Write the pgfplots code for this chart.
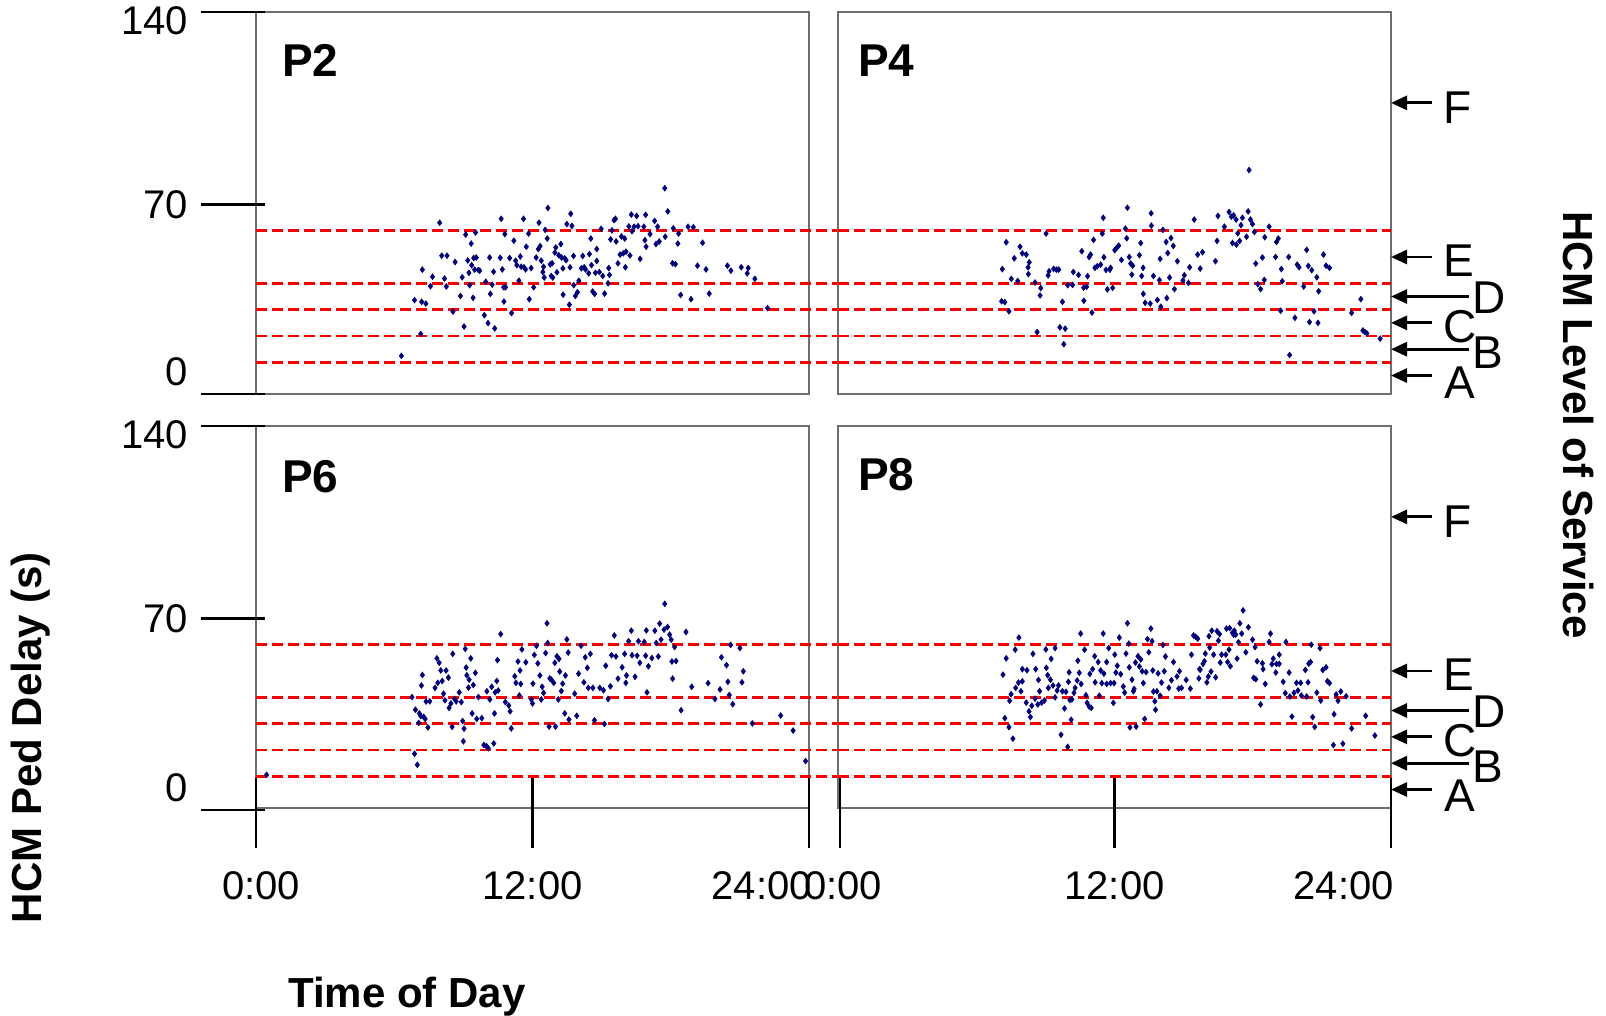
\documentclass[border=0pt]{standalone}
\usepackage{fontspec}
\setmainfont{Liberation Sans}
\usepackage{pgfplots}
\pgfplotsset{compat=1.18}
\usetikzlibrary{arrows.meta}
\definecolor{navy}{RGB}{0,0,128}
\definecolor{boxgray}{RGB}{110,110,110}
\newcommand{\ticklbl}{\fontsize{40pt}{46pt}\selectfont}
\newcommand{\plbl}{\fontsize{46pt}{52pt}\selectfont\bfseries}
\newcommand{\loslbl}{\fontsize{46pt}{52pt}\selectfont}
\newcommand{\axlbl}{\fontsize{42pt}{48pt}\selectfont\bfseries}
\pgfplotsset{
  panel/.style={scale only axis, width=553pt, height=382pt, xmin=0, xmax=24, ymin=-2, ymax=143,
    xtick=\empty, ytick=\empty, axis line style={boxgray, line width=1.3pt}, clip=false, anchor=south west},
  thr/.style={red, line width=2.7pt, dash pattern=on 11pt off 5pt, forget plot},
  pts/.style={only marks, mark=diamond*, mark size=2.9pt, navy, mark options={line width=0.6pt}},
}
\tikzset{tk/.style={line width=2.7pt, black},
  los/.style={line width=2.8pt, {Triangle[length=16pt, width=14pt]}-}}
\begin{document}
\begin{tikzpicture}
\useasboundingbox (0,0) rectangle (1606pt,1015pt);

% ---------------- P2 (top left)
\begin{axis}[panel, at={(256pt,621pt)}]
\addplot[thr] coordinates {(0,10) (25.3,10)};
\addplot[thr] coordinates {(0,20) (25.3,20)};
\addplot[thr] coordinates {(0,30) (25.3,30)};
\addplot[thr] coordinates {(0,40) (25.3,40)};
\addplot[thr] coordinates {(0,60) (25.3,60)};
\addplot[pts] table {
6.31 12.5
6.88 33.6
7.15 20.8
7.22 45.2
7.19 33.0
7.37 32.3
7.57 38.9
7.66 42.5
7.97 63.0
8.06 50.5
8.18 41.8
8.26 38.8
8.29 50.5
8.55 29.3
8.64 48.1
8.87 35.2
8.95 42.3
9.03 23.6
9.10 58.5
9.19 48.7
9.24 44.0
9.27 39.3
9.34 55.1
9.36 46.9
9.42 34.5
9.45 49.6
9.49 45.2
9.53 59.3
9.56 49.8
9.65 45.1
9.71 44.8
9.91 27.9
9.97 40.6
10.07 24.9
10.14 49.8
10.17 36.0
10.25 39.5
10.31 44.4
10.36 22.9
10.60 49.7
10.64 64.5
10.69 45.3
10.75 38.5
10.76 33.1
10.80 58.7
10.83 38.5
11.01 49.6
11.09 28.7
11.19 56.2
11.27 48.6
11.32 46.9
11.41 41.0
11.47 50.2
11.51 46.3
11.61 64.5
11.63 46.1
11.70 45.3
11.73 53.9
11.83 58.9
11.86 34.0
11.94 45.8
12.05 38.5
12.16 49.8
12.25 53.0
12.28 63.0
12.33 54.1
12.38 48.6
12.45 44.3
12.48 46.3
12.51 42.2
12.55 60.3
12.64 57.0
12.67 68.6
12.77 47.2
12.81 42.8
12.85 47.6
12.88 42.2
12.97 51.7
13.01 53.6
13.06 44.2
13.14 50.7
13.23 54.9
13.26 49.8
13.32 45.7
13.33 35.7
13.40 49.5
13.46 48.8
13.49 62.5
13.60 31.9
13.63 46.1
13.66 66.4
13.71 61.8
13.78 50.4
13.79 39.3
13.86 35.2
13.95 36.6
14.01 41.0
14.12 45.7
14.18 50.4
14.24 46.1
14.30 45.3
14.44 43.8
14.47 51.1
14.53 57.0
14.56 46.9
14.61 36.9
14.70 36.0
14.73 44.0
14.79 53.0
14.79 48.5
14.90 44.3
14.98 60.7
15.05 42.8
15.13 36.1
15.28 40.0
15.31 45.8
15.34 43.2
15.39 56.7
15.45 60.1
15.54 64.0
15.60 64.5
15.63 55.9
15.71 47.6
15.80 50.9
15.86 57.8
15.94 51.4
16.00 57.0
16.06 52.0
16.03 46.1
16.18 61.6
16.23 50.6
16.29 66.1
16.32 59.8
16.41 61.5
16.52 65.6
16.58 61.7
16.67 49.3
16.83 61.5
16.88 56.4
16.91 66.0
16.93 53.9
17.10 58.7
17.30 63.7
17.36 54.9
17.43 61.5
17.50 55.9
17.74 76.1
17.76 57.7
17.87 67.3
18.08 47.6
18.11 60.9
18.20 47.3
18.31 55.1
18.34 58.9
18.43 35.6
18.75 61.5
18.88 34.0
18.98 61.3
19.16 46.7
19.38 55.4
19.53 45.3
19.67 36.1
20.46 46.7
20.61 44.8
21.06 46.1
21.32 43.8
21.36 45.8
21.65 41.7
22.20 30.6
};
\draw[tk] ([xshift=-55pt]axis cs:0,143) -- ([xshift=9pt]axis cs:0,143);
\draw[tk] ([xshift=-55pt]axis cs:0,70) -- ([xshift=9pt]axis cs:0,70);
\draw[tk] ([xshift=-55pt]axis cs:0,-2) -- ([xshift=9pt]axis cs:0,-2);
\node[anchor=east, inner sep=0pt, font=\ticklbl] at ([xshift=-68pt, yshift=-9pt]axis cs:0,143) {140};
\node[anchor=east, inner sep=0pt, font=\ticklbl] at ([xshift=-68pt]axis cs:0,70) {70};
\node[anchor=east, inner sep=0pt, font=\ticklbl] at ([xshift=-68pt, yshift=22pt]axis cs:0,-2) {0};
\node[anchor=base west, inner sep=0pt, font=\plbl] at ([xshift=26pt, yshift=-65pt]axis cs:0,143) {P2};
\end{axis}

% ---------------- P4 (top right)
\begin{axis}[panel, at={(838pt,621pt)}]
\addplot[thr] coordinates {(0,10) (24,10)};
\addplot[thr] coordinates {(0,20) (24,20)};
\addplot[thr] coordinates {(0,30) (24,30)};
\addplot[thr] coordinates {(0,40) (24,40)};
\addplot[thr] coordinates {(0,60) (24,60)};
\addplot[pts] table {
7.13 45.4
7.10 33.2
7.24 32.9
7.30 55.6
7.42 29.4
7.52 41.7
7.65 49.5
7.80 40.9
7.90 53.9
8.00 51.4
8.17 50.9
8.25 46.1
8.30 48.0
8.26 43.5
8.55 40.3
8.64 21.5
8.77 35.4
8.80 38.2
9.03 58.9
9.12 43.0
9.16 44.6
9.36 45.5
9.48 45.2
9.58 45.2
9.63 23.3
9.74 33.0
9.80 16.9
9.86 22.8
9.97 39.3
10.18 39.4
10.21 44.3
10.44 43.2
10.58 52.2
10.66 38.4
10.67 33.4
10.79 38.7
10.83 42.7
10.90 50.0
10.96 50.9
11.02 28.9
11.09 56.5
11.15 45.9
11.25 46.5
11.40 47.1
11.47 58.9
11.51 64.9
11.54 49.9
11.63 45.1
11.69 37.7
11.80 45.2
11.83 45.9
11.92 38.3
12.01 52.6
12.09 53.4
12.18 54.3
12.30 48.9
12.47 60.8
12.53 57.1
12.56 68.7
12.64 50.0
12.70 47.5
12.79 46.7
12.75 43.3
13.08 50.7
13.14 55.3
13.18 42.8
13.24 45.9
13.25 36.0
13.33 32.6
13.55 32.3
13.59 66.6
13.60 61.9
13.69 42.8
13.86 33.7
13.95 41.2
13.98 49.3
14.01 31.1
14.10 60.3
14.24 55.7
14.27 34.4
14.31 51.5
14.39 42.2
14.45 57.2
14.55 54.2
14.60 37.8
14.73 48.4
14.97 41.1
15.03 43.1
15.21 40.2
15.26 46.1
15.46 64.2
15.61 50.9
15.72 45.6
15.82 51.8
16.38 48.4
16.45 56.1
16.49 65.6
16.77 61.5
16.97 67.1
17.07 65.3
17.12 55.3
17.17 65.8
17.28 64.2
17.29 54.7
17.35 59.0
17.43 56.1
17.49 62.1
17.55 64.9
17.73 57.7
17.80 67.3
17.84 83.0
17.90 64.2
17.99 62.5
18.07 59.5
18.13 47.5
18.22 39.7
18.34 37.8
18.42 49.8
18.50 41.3
18.52 57.5
18.71 61.5
18.99 50.0
19.03 55.7
19.11 57.0
19.21 29.6
19.24 45.4
19.28 40.8
19.56 50.0
19.60 12.8
19.83 26.9
19.93 47.1
20.01 46.1
20.21 38.8
20.34 52.7
20.41 46.6
20.46 25.3
20.56 45.0
20.66 29.4
20.78 42.3
20.83 25.0
20.86 37.0
21.07 50.9
21.18 46.7
21.33 45.9
22.29 28.8
22.69 34.0
22.78 22.1
22.87 21.5
22.95 21.0
23.53 19.0
};
\node[anchor=base west, inner sep=0pt, font=\plbl] at ([xshift=20pt, yshift=-65pt]axis cs:0,143) {P4};
\draw[los] (axis cs:24,108.5) -- ([xshift=41pt]axis cs:24,108.5);
\draw[los] (axis cs:24,50) -- ([xshift=41pt]axis cs:24,50);
\draw[los] (axis cs:24,35) -- ([xshift=78pt]axis cs:24,35);
\draw[los] (axis cs:24,25) -- ([xshift=41pt]axis cs:24,25);
\draw[los] (axis cs:24,15) -- ([xshift=78pt]axis cs:24,15);
\draw[los] (axis cs:24,5) -- ([xshift=41pt]axis cs:24,5);
\node[anchor=base west, inner sep=0pt, font=\loslbl] at ([xshift=52pt, yshift=-21pt]axis cs:24,108.5) {F};
\node[anchor=base west, inner sep=0pt, font=\loslbl] at ([xshift=52pt, yshift=-19pt]axis cs:24,50) {E};
\node[anchor=base west, inner sep=0pt, font=\loslbl] at ([xshift=81pt, yshift=-17pt]axis cs:24,35) {D};
\node[anchor=base west, inner sep=0pt, font=\loslbl] at ([xshift=52pt, yshift=-20pt]axis cs:24,25) {C};
\node[anchor=base west, inner sep=0pt, font=\loslbl] at ([xshift=81pt, yshift=-19pt]axis cs:24,15) {B};
\node[anchor=base west, inner sep=0pt, font=\loslbl] at ([xshift=53pt, yshift=-23pt]axis cs:24,5) {A};
\end{axis}

% ---------------- P6 (bottom left)
\begin{axis}[panel, at={(256pt,207pt)}]
\addplot[thr] coordinates {(0,10) (25.3,10)};
\addplot[thr] coordinates {(0,20) (25.3,20)};
\addplot[thr] coordinates {(0,30) (25.3,30)};
\addplot[thr] coordinates {(0,40) (25.3,40)};
\addplot[thr] coordinates {(0,60) (25.3,60)};
\addplot[pts] table {
0.46 10.6
6.77 40.1
6.88 18.6
6.92 35.3
7.00 14.4
7.06 30.3
7.09 33.9
7.15 32.9
7.18 44.5
7.22 48.5
7.28 32.6
7.34 31.8
7.38 38.4
7.46 28.6
7.54 38.5
7.77 43.6
7.85 54.8
7.89 45.5
7.95 53.1
8.02 50.2
8.08 46.2
8.14 41.4
8.20 38.9
8.25 50.2
8.35 47.5
8.38 36.0
8.46 37.7
8.51 28.8
8.54 56.5
8.62 39.4
8.69 38.5
8.82 41.9
8.91 38.2
8.97 31.0
9.00 23.3
9.03 28.1
9.08 58.4
9.12 51.3
9.15 48.4
9.22 43.7
9.25 46.7
9.32 54.8
9.38 33.9
9.43 44.7
9.52 49.3
9.58 31.8
9.65 40.1
9.80 32.1
9.89 21.9
10.00 21.5
10.02 42.3
10.08 20.7
10.15 39.2
10.23 44.0
10.32 22.5
10.35 33.9
10.38 41.9
10.45 46.2
10.48 54.1
10.51 42.6
10.62 64.0
10.82 38.2
10.97 36.9
11.03 34.7
11.08 28.2
11.23 48.0
11.28 45.5
11.37 53.6
11.43 40.7
11.46 50.2
11.49 45.1
11.54 58.2
11.71 53.3
11.95 39.2
12.00 37.7
12.02 45.2
12.08 56.1
12.17 59.6
12.23 52.9
12.32 48.3
12.38 39.2
12.42 44.0
12.48 41.7
12.57 56.8
12.63 68.1
12.66 60.6
12.72 28.9
12.75 47.2
12.82 46.7
12.92 45.5
12.97 53.1
13.00 28.9
13.06 55.6
13.12 39.2
13.15 54.6
13.18 49.8
13.25 42.4
13.31 45.2
13.40 33.9
13.43 48.3
13.49 62.0
13.55 57.0
13.58 31.6
13.83 41.4
13.92 33.0
14.00 49.0
14.11 59.6
14.23 45.7
14.29 55.2
14.38 51.2
14.42 43.6
14.51 56.5
14.62 43.6
14.69 31.3
14.92 43.6
15.08 42.7
15.12 29.9
15.18 52.0
15.28 39.4
15.38 44.2
15.43 56.0
15.55 63.5
15.62 55.5
15.71 47.1
15.89 51.4
16.00 56.5
16.05 45.5
16.08 48.3
16.17 61.3
16.29 65.3
16.32 56.0
16.45 47.8
16.54 55.8
16.60 61.3
16.66 53.1
16.85 61.0
16.91 55.8
16.94 65.4
16.97 41.9
17.03 51.8
17.18 54.9
17.31 65.3
17.37 60.6
17.46 55.5
17.52 68.0
17.58 61.9
17.71 65.7
17.74 75.5
17.86 66.7
17.95 63.8
18.02 61.9
18.05 53.6
18.08 47.1
18.17 59.1
18.23 53.8
18.45 35.1
18.66 64.8
18.91 44.0
19.62 45.4
19.92 39.4
20.14 43.0
20.20 55.2
20.42 52.2
20.48 45.9
20.54 40.9
20.60 59.9
20.69 37.4
21.00 58.7
21.09 45.7
21.15 49.9
21.54 30.1
22.77 33.1
23.31 27.4
23.85 15.8
};
\draw[tk] ([xshift=-55pt]axis cs:0,143) -- ([xshift=9pt]axis cs:0,143);
\draw[tk] ([xshift=-55pt]axis cs:0,70) -- ([xshift=9pt]axis cs:0,70);
\draw[tk] ([xshift=-55pt,yshift=-2pt]axis cs:0,-2) -- ([xshift=9pt,yshift=-2pt]axis cs:0,-2);
\node[anchor=east, inner sep=0pt, font=\ticklbl] at ([xshift=-68pt, yshift=-9pt]axis cs:0,143) {140};
\node[anchor=east, inner sep=0pt, font=\ticklbl] at ([xshift=-68pt]axis cs:0,70) {70};
\node[anchor=east, inner sep=0pt, font=\ticklbl] at ([xshift=-68pt, yshift=20pt]axis cs:0,-2) {0};
\node[anchor=base west, inner sep=0pt, font=\plbl] at ([xshift=26pt, yshift=-67pt]axis cs:0,143) {P6};
\draw[line width=2.5pt] ([yshift=30pt]axis cs:0,-2) -- ([yshift=-40pt]axis cs:0,-2);
\draw[line width=2.5pt] ([yshift=30pt]axis cs:12,-2) -- ([yshift=-40pt]axis cs:12,-2);
\draw[line width=2.5pt] ([yshift=30pt]axis cs:24,-2) -- ([yshift=-40pt]axis cs:24,-2);
\node[inner sep=0pt, font=\ticklbl] at ([xshift=5pt, yshift=-78pt]axis cs:0,-2) {0:00};
\node[inner sep=0pt, font=\ticklbl] at ([yshift=-78pt]axis cs:12,-2) {12:00};
\node[anchor=east, inner sep=0pt, font=\ticklbl] at ([xshift=3pt, yshift=-78pt]axis cs:24,-2) {24:00};
\end{axis}

% ---------------- P8 (bottom right)
\begin{axis}[panel, at={(838pt,207pt)}]
\addplot[thr] coordinates {(0,10) (24,10)};
\addplot[thr] coordinates {(0,20) (24,20)};
\addplot[thr] coordinates {(0,30) (24,30)};
\addplot[thr] coordinates {(0,40) (24,40)};
\addplot[thr] coordinates {(0,60) (24,60)};
\addplot[pts] table {
7.16 48.6
7.24 32.1
7.30 54.8
7.42 28.7
7.45 38.7
7.51 41.2
7.59 24.3
7.69 58.1
7.71 43.6
7.83 45.6
7.85 62.7
7.94 42.3
8.00 46.1
8.00 50.7
8.17 38.0
8.20 50.3
8.29 34.7
8.35 32.5
8.41 36.8
8.46 56.5
8.55 39.5
8.58 50.7
8.67 37.3
8.70 46.6
8.75 42.3
8.84 38.0
8.96 38.8
9.02 58.2
9.04 51.2
9.10 48.4
9.13 43.6
9.22 46.7
9.25 54.6
9.33 44.5
9.42 58.7
9.42 40.0
9.51 42.6
9.57 44.5
9.68 25.8
9.74 42.3
9.83 35.8
9.89 42.1
9.97 21.2
10.00 45.9
10.03 49.5
10.06 39.0
10.12 31.5
10.15 39.2
10.24 41.7
10.29 43.6
10.38 46.4
10.41 53.9
10.47 49.3
10.53 64.2
10.55 45.1
10.70 58.1
10.76 40.8
10.81 37.9
10.90 36.5
10.93 48.9
10.99 36.0
11.05 50.7
11.14 55.6
11.16 45.7
11.29 53.4
11.34 40.6
11.40 50.2
11.45 45.4
11.51 64.2
11.54 49.0
11.66 45.1
11.66 53.4
11.75 58.7
11.83 45.4
11.95 37.9
11.98 45.4
12.01 56.2
12.06 49.4
12.12 52.0
12.21 62.7
12.27 48.8
12.38 44.1
12.44 41.8
12.50 56.6
12.56 68.1
12.62 60.4
12.64 51.4
12.67 28.6
12.76 46.7
12.82 42.3
12.85 43.2
12.91 53.2
12.94 28.9
13.02 55.6
13.08 51.7
13.14 54.4
13.20 49.9
13.25 45.4
13.31 31.8
13.37 49.6
13.43 62.1
13.49 57.1
13.58 66.1
13.63 61.3
13.66 50.2
13.69 42.2
13.75 38.5
13.78 35.3
13.84 42.3
13.89 49.1
13.98 40.6
14.04 45.6
14.10 59.9
14.16 49.9
14.21 55.5
14.36 43.6
14.47 46.5
14.56 53.4
14.71 47.9
14.79 43.3
14.82 49.9
14.91 43.6
15.11 46.6
15.29 43.3
15.34 56.2
15.43 63.5
15.52 63.0
15.61 62.3
15.66 47.2
15.69 50.7
15.72 50.5
15.84 52.7
15.90 53.7
15.94 56.6
16.01 45.7
16.07 47.9
16.10 63.2
16.13 58.9
16.19 49.8
16.22 65.3
16.30 56.2
16.39 47.6
16.45 65.1
16.51 61.5
16.56 64.0
16.59 53.2
16.65 56.2
16.83 56.2
16.86 66.1
16.91 53.4
17.00 66.3
16.97 58.1
17.03 51.8
17.12 64.5
17.17 63.8
17.20 65.3
17.26 63.8
17.32 54.7
17.38 60.9
17.44 68.1
17.52 64.2
17.58 73.0
17.70 57.1
17.81 66.6
17.99 61.9
18.04 47.4
18.10 59.1
18.13 46.9
18.19 53.7
18.34 37.3
18.42 52.9
18.45 50.7
18.54 45.1
18.71 61.0
18.77 64.2
18.83 52.6
18.89 54.7
19.00 49.4
19.03 52.7
19.15 56.2
19.15 52.7
19.32 45.9
19.41 41.6
19.44 61.0
19.58 49.4
19.61 40.3
19.70 32.7
19.79 41.7
19.90 45.5
19.96 42.6
20.08 45.5
20.11 40.7
20.28 50.4
20.34 40.3
20.40 45.7
20.43 52.8
20.51 53.4
20.54 60.0
20.60 32.5
20.69 28.8
20.78 41.8
20.92 58.7
20.95 38.8
21.04 50.4
21.18 51.4
21.24 46.1
21.33 45.4
21.53 33.6
21.50 21.9
21.62 41.1
21.70 38.7
21.82 42.2
21.91 22.4
22.05 40.4
22.29 28.2
22.90 33.0
23.30 25.5
};
\node[anchor=base west, inner sep=0pt, font=\plbl] at ([xshift=20pt, yshift=-65pt]axis cs:0,143) {P8};
\draw[line width=2.5pt] ([yshift=30pt]axis cs:0.08,-2) -- ([yshift=-40pt]axis cs:0.08,-2);
\draw[line width=2.5pt] ([yshift=30pt]axis cs:12,-2) -- ([yshift=-40pt]axis cs:12,-2);
\draw[line width=2.5pt] ([yshift=30pt]axis cs:24,-2) -- ([yshift=-40pt]axis cs:24,-2);
\node[inner sep=0pt, font=\ticklbl] at ([xshift=5pt, yshift=-78pt]axis cs:0,-2) {0:00};
\node[inner sep=0pt, font=\ticklbl] at ([yshift=-78pt]axis cs:12,-2) {12:00};
\node[anchor=east, inner sep=0pt, font=\ticklbl] at ([xshift=3pt, yshift=-78pt]axis cs:24,-2) {24:00};
\draw[los] (axis cs:24,108.5) -- ([xshift=41pt]axis cs:24,108.5);
\draw[los] (axis cs:24,50) -- ([xshift=41pt]axis cs:24,50);
\draw[los] (axis cs:24,35) -- ([xshift=78pt]axis cs:24,35);
\draw[los] (axis cs:24,25) -- ([xshift=41pt]axis cs:24,25);
\draw[los] (axis cs:24,15) -- ([xshift=78pt]axis cs:24,15);
\draw[los] (axis cs:24,5) -- ([xshift=41pt]axis cs:24,5);
\node[anchor=base west, inner sep=0pt, font=\loslbl] at ([xshift=52pt, yshift=-21pt]axis cs:24,108.5) {F};
\node[anchor=base west, inner sep=0pt, font=\loslbl] at ([xshift=52pt, yshift=-19pt]axis cs:24,50) {E};
\node[anchor=base west, inner sep=0pt, font=\loslbl] at ([xshift=81pt, yshift=-17pt]axis cs:24,35) {D};
\node[anchor=base west, inner sep=0pt, font=\loslbl] at ([xshift=52pt, yshift=-20pt]axis cs:24,25) {C};
\node[anchor=base west, inner sep=0pt, font=\loslbl] at ([xshift=81pt, yshift=-19pt]axis cs:24,15) {B};
\node[anchor=base west, inner sep=0pt, font=\loslbl] at ([xshift=53pt, yshift=-22pt]axis cs:24,5) {A};
\end{axis}

% ---------------- outer titles
\node[font=\axlbl, rotate=90, anchor=base, inner sep=0pt] at (41pt,277.5pt) {HCM Ped Delay (s)};
\node[font=\axlbl, rotate=-90, anchor=base, inner sep=0pt] at (1563pt,590pt) {HCM Level of Service};
\node[font=\axlbl, anchor=base west, inner sep=0pt] at (288pt,8pt) {Time of Day};
\end{tikzpicture}
\end{document}
